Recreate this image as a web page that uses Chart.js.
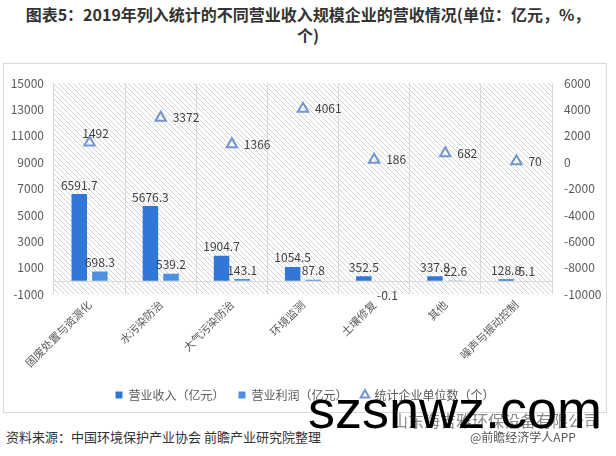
<!DOCTYPE html>
<html>
<head>
<meta charset="utf-8">
<script src="https://cdn.jsdelivr.net/npm/chart.js@4.4.1/dist/chart.umd.min.js"></script>
<style>
    body {
        margin: 0;
        width: 616px;
        height: 456px;
        background: #ffffff;
        position: relative;
        overflow: hidden;
        font-family: "Noto Sans CJK SC", sans-serif;
    }
    #title {
        position: absolute;
        left: 0;
        top: 4px;
        width: 616px;
        text-align: center;
        font-size: 16px;
        font-weight: bold;
        line-height: 21px;
        color: #333333;
    }
    #box {
        position: absolute;
        left: 3px;
        top: 63px;
        width: 602px;
        height: 348px;
        border: 1px solid #d9d9d9;
    }
    #source {
        position: absolute;
        left: 6px;
        top: 427px;
        font-size: 13px;
        color: #333333;
    }
    #wm1 {
        position: absolute;
        left: 308px;
        top: 378px;
        font-family: "Liberation Sans", sans-serif;
        font-size: 54px;
        color: #000000;
    }
    #wm2 {
        position: absolute;
        left: 392px;
        top: 408px;
        font-size: 16px;
        color: #8a8a8a;
    }
    #wm3 {
        position: absolute;
        left: 470px;
        top: 428px;
        font-size: 12px;
        color: #555555;
    }
</style>
</head>
<body>
<div id="title">图表5：2019年列入统计的不同营业收入规模企业的营收情况(单位：亿元，%，<br>个)</div>
<div id="box">
    <canvas id="chartCanvas" width="602" height="348"></canvas>
</div>
<div id="source">资料来源：中国环境保护产业协会 前瞻产业研究院整理</div>
<div id="wm2">山东海吉雅环保设备有限公司</div>
<div id="wm3">@前瞻经济学人APP</div>
<div id="wm1">szsnwz.com</div>

<script>
const categories = ["固废处置与资源化", "水污染防治", "大气污染防治", "环境监测", "土壤修复", "其他", "噪声与振动控制"];
const revenue = [6591.7, 5676.3, 1904.7, 1054.5, 352.5, 337.8, 128.8];
const profit = [698.3, 539.2, 143.1, 87.8, -0.1, 22.6, 5.1];
const companies = [1492, 3372, 1366, 4061, 186, 682, 70];
const seriesNames = ["营业收入（亿元）", "营业利润（亿元）", "统计企业单位数（个）"];

Chart.defaults.font.family = "'Noto Sans CJK SC', sans-serif";
Chart.defaults.font.size = 12;
Chart.defaults.color = "#595959";

// diagonal hatch for the plot background
function makeHatch() {
    const c = document.createElement("canvas");
    c.width = 5;
    c.height = 5;
    const g = c.getContext("2d");
    g.fillStyle = "#d2d2d2";
    for (let i = 0; i < 5; i++) {
        g.fillRect(i, i, 1, 1);
    }
    return g.createPattern(c, "repeat");
}

const backgroundPlugin = {
    id: "hatchBackground",
    beforeDraw(chart) {
        const ctx = chart.ctx;
        const a = chart.chartArea;
        ctx.save();
        ctx.fillStyle = makeHatch();
        ctx.fillRect(a.left, a.top, a.right - a.left, a.bottom - a.top);
        ctx.restore();
    },
    beforeDatasetsDraw(chart) {
        // zero line of the left axis
        const ctx = chart.ctx;
        const a = chart.chartArea;
        const y = Math.round(chart.scales.y.getPixelForValue(0)) + 0.5;
        ctx.save();
        ctx.strokeStyle = "#d9d9d9";
        ctx.lineWidth = 1;
        ctx.beginPath();
        ctx.moveTo(a.left, y);
        ctx.lineTo(a.right, y);
        ctx.stroke();
        ctx.restore();
    }
};

const labelPlugin = {
    id: "valueLabels",
    afterDatasetsDraw(chart) {
        const ctx = chart.ctx;
        ctx.save();
        ctx.font = "12px 'Noto Sans CJK SC', sans-serif";
        ctx.fillStyle = "#404040";
        chart.data.datasets.forEach((ds, di) => {
            const meta = chart.getDatasetMeta(di);
            meta.data.forEach((el, i) => {
                const v = ds.data[i];
                const txt = String(v);
                if (ds.type === "line") {
                    if (i === 0) {
                        ctx.textAlign = "center";
                        ctx.textBaseline = "middle";
                        ctx.fillText(txt, el.x + 6, el.y - 9);
                    } else {
                        ctx.textAlign = "left";
                        ctx.textBaseline = "middle";
                        ctx.fillText(txt, el.x + 12, el.y);
                    }
                } else {
                    ctx.textAlign = "center";
                    if (v < 0) {
                        ctx.textBaseline = "top";
                        ctx.fillText(txt, el.x + 3, el.y + 9);
                    } else {
                        ctx.textBaseline = "bottom";
                        ctx.fillText(txt, el.x, el.y - 3);
                    }
                }
            });
        });
        ctx.restore();
    }
};

const chart = new Chart(document.querySelector("#chartCanvas"), {
    data: {
        labels: categories,
        datasets: [
            {
                type: "bar",
                label: seriesNames[0],
                data: revenue,
                backgroundColor: "#3077d8",
                pointStyle: "rect",
                yAxisID: "y",
                categoryPercentage: 0.58,
                barPercentage: 0.75
            },
            {
                type: "bar",
                label: seriesNames[1],
                data: profit,
                backgroundColor: "#4d8fe2",
                pointStyle: "rect",
                yAxisID: "y",
                categoryPercentage: 0.58,
                barPercentage: 0.75
            },
            {
                type: "line",
                label: seriesNames[2],
                data: companies,
                yAxisID: "y1",
                showLine: false,
                pointStyle: "triangle",
                pointRadius: 6,
                pointBorderWidth: 2,
                borderColor: "#7296cb",
                backgroundColor: "#8eaadb",
                pointBackgroundColor: "rgba(255,255,255,0)"
            }
        ]
    },
    options: {
        responsive: false,
        animation: false,
        layout: {
            padding: { top: 13, left: 0, right: 0, bottom: 1 }
        },
        plugins: {
            legend: {
                position: "bottom",
                labels: {
                    usePointStyle: true,
                    boxWidth: 7,
                    boxHeight: 7,
                    padding: 14,
                    color: "#595959",
                    font: { size: 12 }
                }
            },
            tooltip: { enabled: false }
        },
        scales: {
            x: {
                offset: true,
                grid: {
                    offset: true,
                    color: "#d9d9d9",
                    drawTicks: false
                },
                border: { display: false },
                ticks: {
                    minRotation: 45,
                    maxRotation: 45,
                    padding: 4,
                    color: "#595959",
                    font: { size: 11 }
                },
                afterFit(scale) {
                    scale.height = 81;
                }
            },
            y: {
                position: "left",
                min: -1000,
                max: 15000,
                grid: { display: false, drawTicks: false },
                border: { display: false },
                ticks: {
                    stepSize: 2000,
                    padding: 10,
                    color: "#595959",
                    callback: (v) => String(v)
                },
                afterFit(scale) {
                    scale.width = 50;
                }
            },
            y1: {
                position: "right",
                min: -10000,
                max: 6000,
                grid: { display: false, drawTicks: false },
                border: { display: false },
                ticks: {
                    stepSize: 2000,
                    padding: 12,
                    color: "#595959",
                    callback: (v) => String(v)
                },
                afterFit(scale) {
                    scale.width = 54;
                }
            }
        }
    },
    plugins: [backgroundPlugin, labelPlugin]
});
</script>
</body>
</html>
